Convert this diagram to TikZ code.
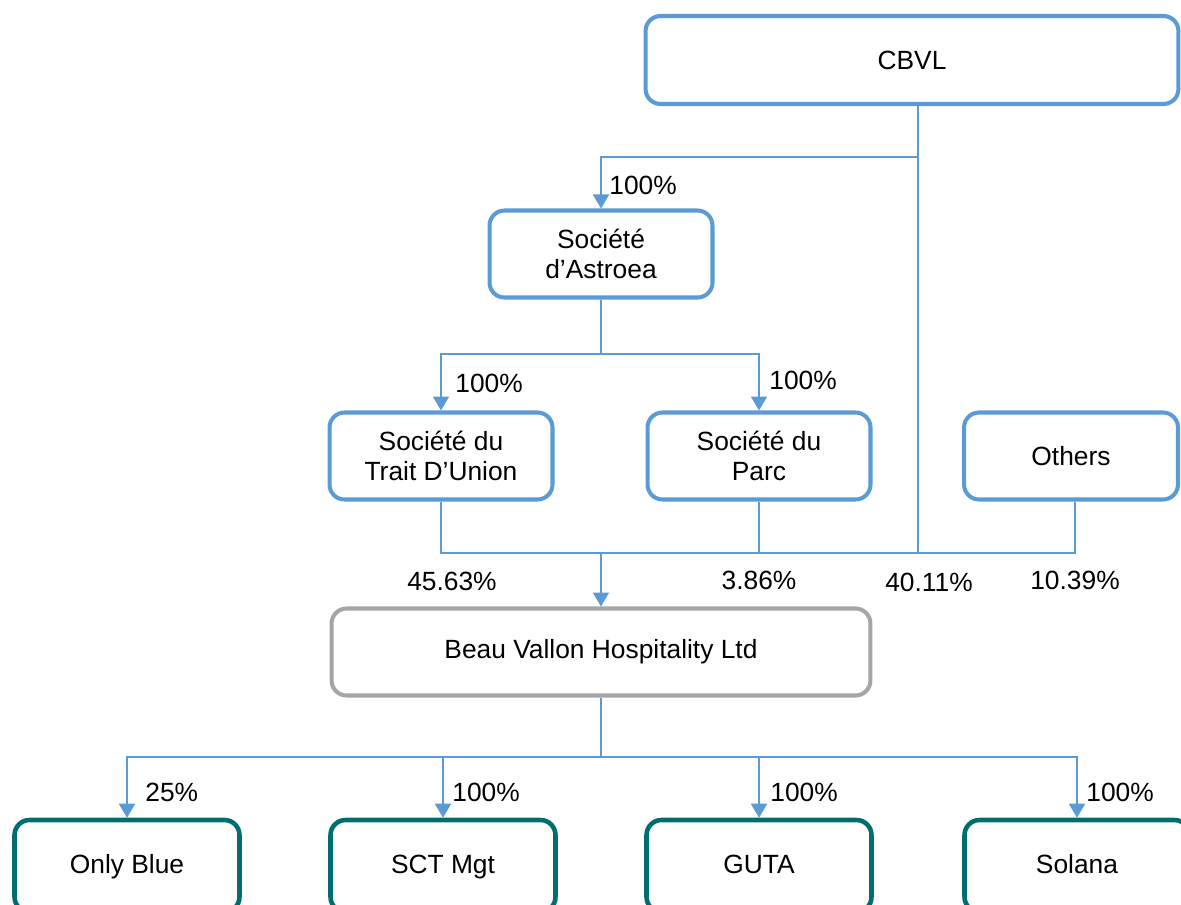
\documentclass[tikz,border=0pt]{standalone}
\usepackage{fontspec}
\setmainfont{Liberation Sans}
\usetikzlibrary{arrows.meta}
\definecolor{linkblue}{RGB}{91,155,213}
\definecolor{boxgrey}{RGB}{165,165,165}
\definecolor{subteal}{RGB}{0,110,110}
\begin{document}
\begin{tikzpicture}[
            x=0.02cm, y=-0.02cm,
            >={Triangle[width=0.32cm,length=0.28cm]},
            font=\fontsize{15}{17}\selectfont,
            holdbox/.style={draw=linkblue, line width=2.3pt, rounded corners=0.3cm, align=center, inner sep=0pt, minimum width=4.46cm, minimum height=1.74cm},
            groupbox/.style={holdbox, draw=boxgrey, minimum width=10.78cm},
            subbox/.style={holdbox, draw=subteal, line width=2.6pt, minimum width=4.5cm, minimum height=1.84cm, text height=2.1ex, text depth=0.4ex},
            link/.style={draw=linkblue, line width=1.1pt},
            pct/.style={inner sep=0pt}
        ]
        \useasboundingbox (0,0) rectangle (1181,904);
        \clip (0,0) rectangle (1181,904);

        %Boxes

        \node[holdbox, minimum width=10.66cm, minimum height=1.76cm] (cbvl) at (912,60) {CBVL};
        \node[holdbox] (astroea) at (601,254) {Société\\d’Astroea};
        \node[holdbox] (trait) at (441,456) {Société du\\Trait D’Union};
        \node[holdbox] (parc) at (759,456) {Société du\\Parc};
        \node[holdbox, minimum width=4.28cm] (others) at (1071,456) {Others};
        \node[groupbox] (bvh) at (601,652) {Beau Vallon Hospitality Ltd};

        \node[subbox] (onlyblue) at (127,866) {Only Blue};
        \node[subbox] (sctmgt) at (443,866) {SCT Mgt};
        \node[subbox] (guta) at (759,866) {GUTA};
        \node[subbox] (solana) at (1077,866) {Solana};

        %% CBVL and Astroea

        \coordinate (hub) at (918,553);
        \coordinate (bus0) at (601,157);
        \draw[link] (cbvl.south -| hub) -- (hub);
        \draw[link,->] (bus0 -| hub) -- (bus0) -- (astroea.north);
        \node[pct, anchor=west] at (609,185) {100\%};

        \coordinate (bus1) at (601,354);
        \draw[link] (astroea.south) -- (bus1);
        \draw[link,->] (bus1) -| (trait.north);
        \draw[link,->] (bus1) -| (parc.north);
        \node[pct, anchor=west] at (455,383) {100\%};
        \node[pct, anchor=west] at (769,380) {100\%};

        %% Holders of Beau Vallon

        \coordinate (bus2) at (601,553);
        \coordinate (others_tap) at (1075,553);
        \draw[link] (trait.south) |- (others_tap) -- (others.south -| others_tap);
        \draw[link] (parc.south) -- (parc.south |- bus2);
        \draw[link,->] (bus2) -- (bvh.north);
        \node[pct] at (452,581) {45.63\%};
        \node[pct] at (759,580) {3.86\%};
        \node[pct] at (929,582) {40.11\%};
        \node[pct] at (1075,580) {10.39\%};

        %% Subsidiaries

        \coordinate (bus3) at (601,757);
        \draw[link] (bvh.south) -- (bus3);
        \foreach \sub in {onlyblue, sctmgt, guta, solana}
            \draw[link,->] (bus3) -| (\sub.north);
        \node[pct, anchor=west] at (145,792) {25\%};
        \node[pct, anchor=west] at (452,792) {100\%};
        \node[pct, anchor=west] at (770,792) {100\%};
        \node[pct, anchor=west] at (1086,792) {100\%};

    \end{tikzpicture}
\end{document}
